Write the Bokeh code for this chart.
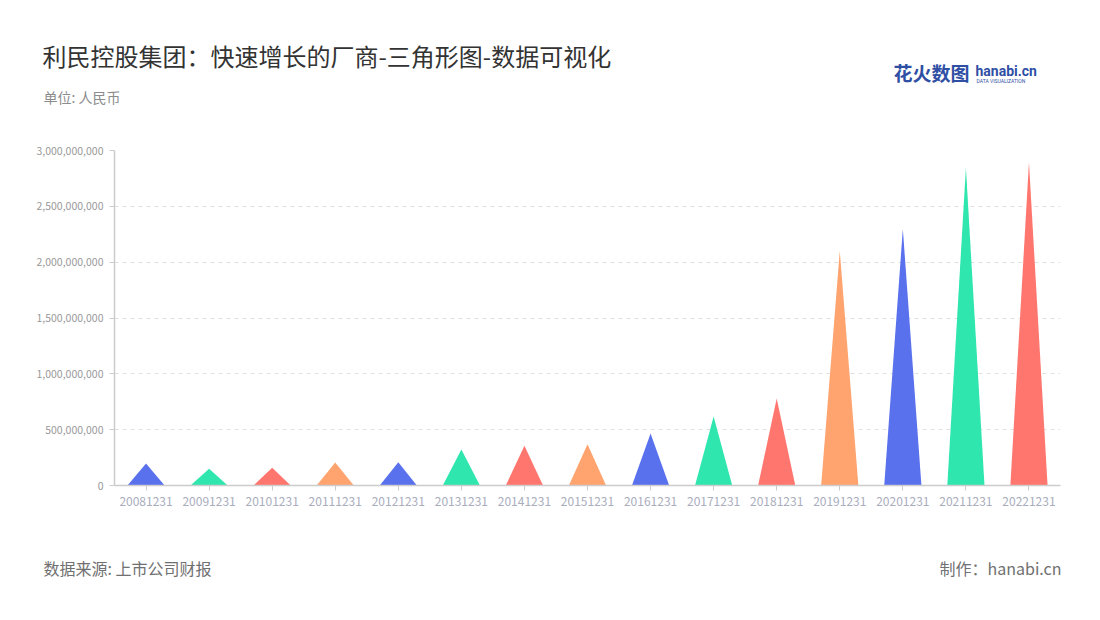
from bokeh.plotting import figure
from bokeh.layouts import column
from bokeh.models import (Range1d, FixedTicker, NumeralTickFormatter, Label, ColumnDataSource)
from bokeh.embed import file_html
from bokeh.resources import INLINE

# ---- data ----
categories = ["20081231", "20091231", "20101231", "20111231", "20121231",
              "20131231", "20141231", "20151231", "20161231", "20171231",
              "20181231", "20191231", "20201231", "20211231", "20221231"]
values = [196e6, 150e6, 158e6, 206e6, 209e6,
          322e6, 355e6, 370e6, 466e6, 618e6,
          779e6, 2100e6, 2297e6, 2845e6, 2895e6]
palette = ["#5a71ee", "#2ee6ae", "#ff766f", "#ffa36f"]
y_ticks = [0, 500e6, 1000e6, 1500e6, 2000e6, 2500e6, 3000e6]

FONT = "Noto Sans CJK SC"
W = 1100


def text_panel(height):
    f = figure(width=W, height=height, output_backend="svg", toolbar_location=None,
               x_range=Range1d(0, W), y_range=Range1d(0, height),
               x_axis_type=None, y_axis_type=None,
               min_border_left=0, min_border_right=0, min_border_top=0, min_border_bottom=0)
    f.outline_line_color = None
    f.xgrid.grid_line_color = None
    f.ygrid.grid_line_color = None
    f.frame_align = False
    return f


def lab(f, h, text, px, py, size, color, align="left", weight="normal", font=FONT):
    f.add_layout(Label(x=px, y=h - py, x_units="screen", y_units="screen", text=text,
                       text_font=font, text_font_size=size, text_color=color,
                       text_align=align, text_baseline="middle", text_font_style=weight))


# ---- header ----
HH = 110
header = text_panel(HH)
lab(header, HH, "利民控股集团：快速增长的厂商-三角形图-数据可视化", 42, 55, "24px", "#333333")
lab(header, HH, "单位: 人民币", 43, 96, "14px", "#8c8c8c")
lab(header, HH, "花火数图", 893, 72, "19px", "#2f4fa5", weight="bold")
lab(header, HH, "hanabi.cn", 975, 70, "14px", "#2f4fa5", weight="bold", font="Roboto")
lab(header, HH, "DATA VISUALIZATION", 976, 80, "5px", "#2f4fa5", font="Roboto")

# ---- main chart ----
p = figure(width=W, height=410, output_backend="svg", toolbar_location=None,
           x_range=Range1d(-0.5, len(categories) - 0.5), y_range=Range1d(0, 3e9),
           min_border_left=114, min_border_right=40, min_border_top=40,
           min_border_bottom=35)
p.outline_line_color = None
p.frame_align = False

half = 0.295
xs, ys, cols = [], [], []
for i, v in enumerate(values):
    xs.append([i - half, i, i + half])
    ys.append([0, v, 0])
    cols.append(palette[i % len(palette)])
src = ColumnDataSource(dict(xs=xs, ys=ys, color=cols))
p.patches("xs", "ys", source=src, fill_color="color", line_color=None)

p.xaxis.ticker = FixedTicker(ticks=list(range(len(categories))))
p.xaxis.major_label_overrides = {i: c for i, c in enumerate(categories)}
p.xaxis.axis_line_color = "#cccccc"
p.xaxis.axis_line_width = 1.5
p.xaxis.major_tick_line_color = "#cccccc"
p.xaxis.major_tick_in = 0
p.xaxis.major_tick_out = 5
p.xaxis.minor_tick_line_color = None
p.xaxis.major_label_text_color = "#a9adbd"
p.xaxis.major_label_text_font = FONT
p.xaxis.major_label_text_font_size = "12px"
p.xaxis.major_label_standoff = 6

p.yaxis.ticker = FixedTicker(ticks=y_ticks)
p.yaxis.formatter = NumeralTickFormatter(format="0,0")
p.yaxis.axis_line_color = "#cccccc"
p.yaxis.axis_line_width = 1.5
p.yaxis.major_tick_line_color = "#cccccc"
p.yaxis.major_tick_in = 0
p.yaxis.major_tick_out = 5
p.yaxis.minor_tick_line_color = None
p.yaxis.major_label_text_color = "#999999"
p.yaxis.major_label_text_font = FONT
p.yaxis.major_label_text_font_size = "10.5px"
p.yaxis.major_label_standoff = 6

p.xgrid.grid_line_color = None
p.ygrid.grid_line_color = "#e0e0e0"
p.ygrid.grid_line_dash = "4 4"

# ---- footer ----
FH = 90
footer = text_panel(FH)
lab(footer, FH, "数据来源: 上市公司财报", 43, 47, "16px", "#707070")
lab(footer, FH, "制作：hanabi.cn", 1061, 47, "16px", "#707070", align="right")

layout = column(header, p, footer, spacing=0)
open("out.html", "w").write(file_html(layout, INLINE))
